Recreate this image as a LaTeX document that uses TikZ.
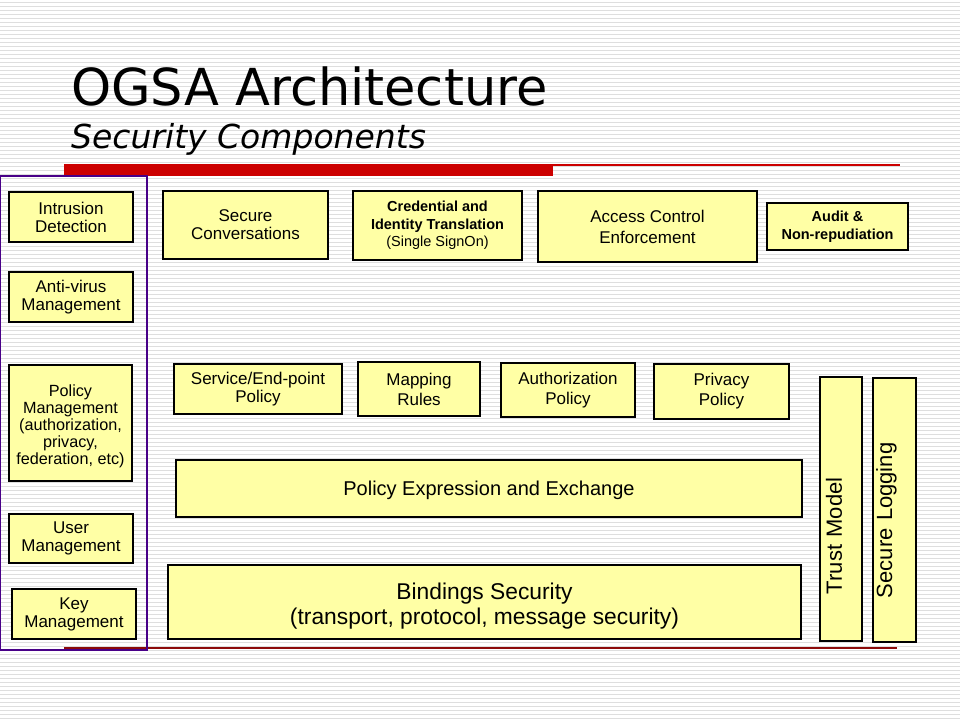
\documentclass[tikz,border=0pt]{standalone}
\usepackage{fontspec}
\setmainfont{Liberation Sans}
\newfontfamily\titlefont{DejaVu Sans}
\usepackage{xcolor}
\usepackage{tikz}
\definecolor{boxfill}{RGB}{255,255,165}
\definecolor{barred}{RGB}{204,0,0}
\definecolor{rulered}{RGB}{140,10,10}
\definecolor{framepurple}{RGB}{72,0,136}
\definecolor{stripegray}{RGB}{222,222,222}
\newcommand\shiftline[2]{\raisebox{#1}[\height][\depth]{#2}}

\begin{document}
\begin{tikzpicture}[x=1pt,y=-1pt,
  box/.style={draw=black,line width=1.1pt,fill=boxfill,align=center,inner sep=0pt},
  fs/.style 2 args={font=\fontsize{#1}{#2}\selectfont},
  stripe/.style={stripegray,line width=1pt},
  ]
\useasboundingbox (0,0) rectangle (960,720);
\fill[white] (0,0) rectangle (960,720);
\foreach \s in {2,6,...,718}
  \draw[stripe] (0,\s) -- (960,\s);
\node[anchor=base west,inner sep=0pt,font=\titlefont\fontsize{51}{56}\selectfont] (title) at (71,105) {OGSA Architecture};
\node[anchor=base west,inner sep=0pt,font=\titlefont\itshape\fontsize{33}{36}\selectfont] (subtitle) at (71,148) {Security Components};
\fill[barred] (64,164) rectangle (553,176);
\draw[barred,line width=1.2pt] (553,165) -- (900,165);
\draw[rulered,line width=1.4pt] (64,648) -- (897,648);
\draw[framepurple,line width=1.3pt] (0.7,176) rectangle (147,650);
\node[box,fs={17}{18},minimum width=124,minimum height=50] (intrusion) at (71,217) {Intrusion\\Detection};
\node[box,fs={17}{18},minimum width=124,minimum height=50] (antivirus) at (71,297) {Anti-virus\\Management};
\node[box,fs={16.2}{17},minimum width=123,minimum height=116] (policymgmt) at (70.5,423) {\shiftline{-3pt}{Policy}\\\shiftline{-3pt}{Management}\\\shiftline{-3pt}{(authorization,}\\\shiftline{-3pt}{privacy,}\\\shiftline{-3pt}{federation, etc)}};
\node[box,fs={17}{18},minimum width=124,minimum height=49] (usermgmt) at (71,538.5) {User\\Management};
\node[box,fs={17}{18},minimum width=124,minimum height=50] (keymgmt) at (74,614) {Key\\Management};
\node[box,fs={17}{18},minimum width=165,minimum height=68] (secconv) at (245.5,225) {Secure\\Conversations};
\node[box,fs={14.5}{17.5},minimum width=169,minimum height=69] (credential) at (437.5,225.5) {\textbf{Credential and}\\\textbf{Identity Translation}\\(Single SignOn)};
\node[box,fs={17}{21},minimum width=219,minimum height=71] (access) at (647.5,226.5) {Access Control\\Enforcement};
\node[box,fs={14.5}{18},minimum width=141,minimum height=47] (audit) at (837.5,226.5) {\textbf{Audit \&}\\\textbf{Non-repudiation}};
\node[box,fs={17}{18},minimum width=168,minimum height=50] (endpoint) at (258,389) {Service/End-point\\Policy};
\node[box,fs={17}{20},minimum width=122,minimum height=54] (mapping) at (419,389) {Mapping\\Rules};
\node[box,fs={17}{20},minimum width=134,minimum height=54] (authz) at (568,390) {Authorization\\Policy};
\node[box,fs={17}{20},minimum width=135,minimum height=55] (privacy) at (721.5,391.5) {Privacy\\Policy};
\node[box,fs={20}{22},minimum width=626,minimum height=57] (policyexp) at (489,488.5) {\shiftline{-2pt}{Policy Expression and Exchange}};
\node[box,fs={22.8}{24.5},minimum width=633,minimum height=74] (bindings) at (484.5,602) {\shiftline{-4pt}{Bindings Security}\\\shiftline{-4pt}{(transport, protocol, message security)}};
\node[box,fs={22}{24},rotate=90,minimum width=264,minimum height=42,inner xsep=47,text width=170,align=left] (trust) at (841,509) {\shiftline{7pt}{Trust Model}};
\node[box,fs={22}{24},rotate=90,minimum width=264,minimum height=43,inner xsep=44,text width=176,align=left] (seclog) at (894.5,510) {\shiftline{8pt}{Secure Logging}};
\end{tikzpicture}
\end{document}
